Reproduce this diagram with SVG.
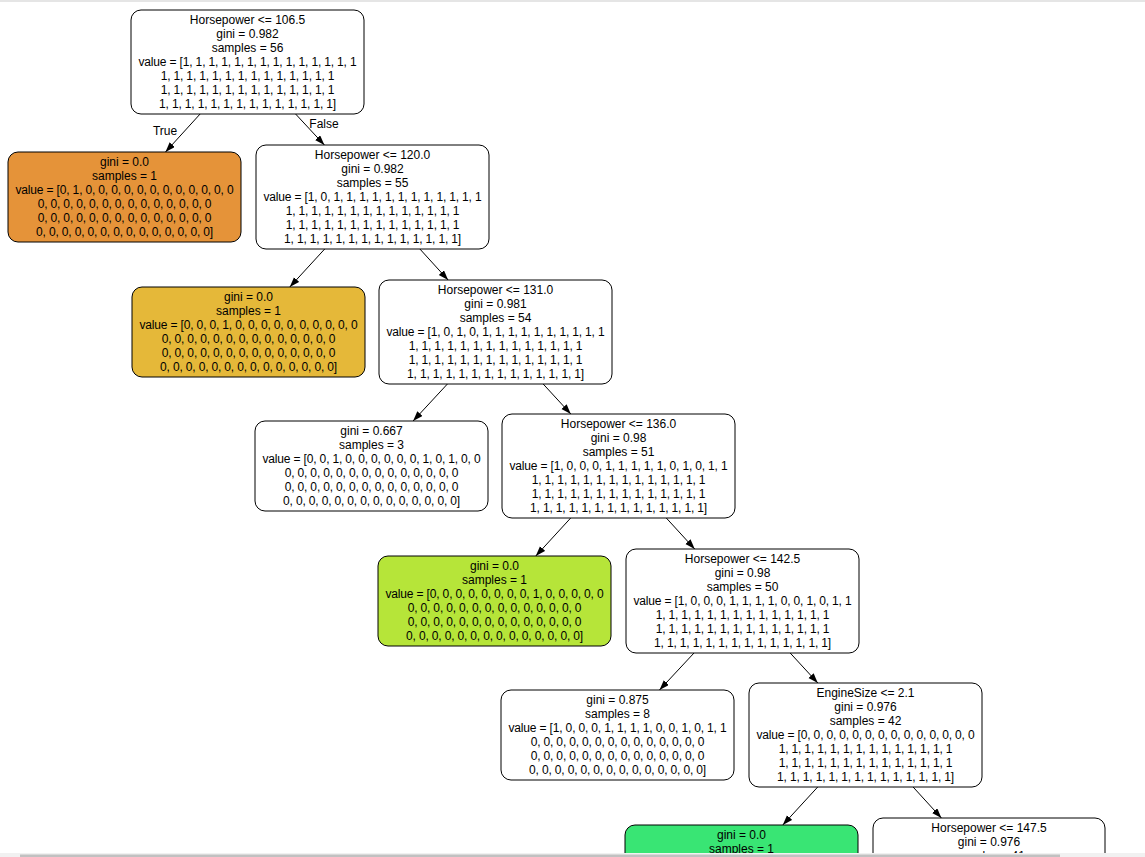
<svg xmlns="http://www.w3.org/2000/svg" width="1145" height="857" viewBox="0 0 1145 857">
<style>
.box{stroke:#000;stroke-width:1;}
.w{fill:#ffffff;}
.t{font-family:"Liberation Sans",Arial,sans-serif;font-size:12px;fill:#000;text-anchor:middle;}
.v{letter-spacing:-0.16px;}
.e{stroke:#000;stroke-width:1;fill:none;}
</style>
<defs>
<marker id="ah" markerUnits="userSpaceOnUse" markerWidth="10" markerHeight="8" refX="10" refY="3.5" orient="auto">
<path d="M0,0 L10,3.5 L0,7 z" fill="#000"/>
</marker>
</defs>
<rect x="0" y="0" width="1145" height="857" fill="#ffffff"/>
<line x1="0" y1="1" x2="1145" y2="1" stroke="#dcdcdc" stroke-width="1.5"/>

<g id="connectors">
<line class="e" x1="200.1" y1="114" x2="165.5" y2="152" marker-end="url(#ah)"/>
<line class="e" x1="295.6" y1="114" x2="324.4" y2="145" marker-end="url(#ah)"/>
<line class="e" x1="324.7" y1="249" x2="289.8" y2="287" marker-end="url(#ah)"/>
<line class="e" x1="419.9" y1="249" x2="448.1" y2="280" marker-end="url(#ah)"/>
<line class="e" x1="447.4" y1="384" x2="413.1" y2="421" marker-end="url(#ah)"/>
<line class="e" x1="543.2" y1="384" x2="570.8" y2="414" marker-end="url(#ah)"/>
<line class="e" x1="570.7" y1="518" x2="535.8" y2="556" marker-end="url(#ah)"/>
<line class="e" x1="666.3" y1="518" x2="694.7" y2="549" marker-end="url(#ah)"/>
<line class="e" x1="694" y1="653" x2="659.5" y2="690" marker-end="url(#ah)"/>
<line class="e" x1="790.2" y1="653" x2="817.8" y2="683" marker-end="url(#ah)"/>
<line class="e" x1="817.7" y1="787" x2="782.8" y2="825" marker-end="url(#ah)"/>
<line class="e" x1="913.1" y1="787" x2="941.4" y2="818" marker-end="url(#ah)"/>
<text class="t" x="165" y="135">True</text>
<text class="t" x="324" y="128">False</text>
</g>

<g id="n0">
<rect class="box w" x="131" y="10" width="233" height="104" rx="10"/>
<text class="t" x="247.5" y="24">Horsepower &lt;= 106.5<tspan x="247.5" dy="14">gini = 0.982</tspan><tspan x="247.5" dy="14">samples = 56</tspan><tspan class="v" x="247.5" dy="14">value = [1, 1, 1, 1, 1, 1, 1, 1, 1, 1, 1, 1, 1, 1</tspan><tspan class="v" x="247.5" dy="14">1, 1, 1, 1, 1, 1, 1, 1, 1, 1, 1, 1, 1, 1</tspan><tspan class="v" x="247.5" dy="14">1, 1, 1, 1, 1, 1, 1, 1, 1, 1, 1, 1, 1, 1</tspan><tspan class="v" x="247.5" dy="14">1, 1, 1, 1, 1, 1, 1, 1, 1, 1, 1, 1, 1, 1]</tspan></text>
</g>

<g id="n1">
<rect class="box" fill="#e59339" x="8" y="152" width="233" height="90" rx="10"/>
<text class="t" x="124.5" y="166">gini = 0.0<tspan x="124.5" dy="14">samples = 1</tspan><tspan class="v" x="124.5" dy="14">value = [0, 1, 0, 0, 0, 0, 0, 0, 0, 0, 0, 0, 0, 0</tspan><tspan class="v" x="124.5" dy="14">0, 0, 0, 0, 0, 0, 0, 0, 0, 0, 0, 0, 0, 0</tspan><tspan class="v" x="124.5" dy="14">0, 0, 0, 0, 0, 0, 0, 0, 0, 0, 0, 0, 0, 0</tspan><tspan class="v" x="124.5" dy="14">0, 0, 0, 0, 0, 0, 0, 0, 0, 0, 0, 0, 0, 0]</tspan></text>
</g>

<g id="n2">
<rect class="box w" x="256" y="145" width="233" height="104" rx="10"/>
<text class="t" x="372.5" y="159">Horsepower &lt;= 120.0<tspan x="372.5" dy="14">gini = 0.982</tspan><tspan x="372.5" dy="14">samples = 55</tspan><tspan class="v" x="372.5" dy="14">value = [1, 0, 1, 1, 1, 1, 1, 1, 1, 1, 1, 1, 1, 1</tspan><tspan class="v" x="372.5" dy="14">1, 1, 1, 1, 1, 1, 1, 1, 1, 1, 1, 1, 1, 1</tspan><tspan class="v" x="372.5" dy="14">1, 1, 1, 1, 1, 1, 1, 1, 1, 1, 1, 1, 1, 1</tspan><tspan class="v" x="372.5" dy="14">1, 1, 1, 1, 1, 1, 1, 1, 1, 1, 1, 1, 1, 1]</tspan></text>
</g>

<g id="n3">
<rect class="box" fill="#e5b839" x="132" y="287" width="233" height="90" rx="10"/>
<text class="t" x="248.5" y="301">gini = 0.0<tspan x="248.5" dy="14">samples = 1</tspan><tspan class="v" x="248.5" dy="14">value = [0, 0, 0, 1, 0, 0, 0, 0, 0, 0, 0, 0, 0, 0</tspan><tspan class="v" x="248.5" dy="14">0, 0, 0, 0, 0, 0, 0, 0, 0, 0, 0, 0, 0, 0</tspan><tspan class="v" x="248.5" dy="14">0, 0, 0, 0, 0, 0, 0, 0, 0, 0, 0, 0, 0, 0</tspan><tspan class="v" x="248.5" dy="14">0, 0, 0, 0, 0, 0, 0, 0, 0, 0, 0, 0, 0, 0]</tspan></text>
</g>

<g id="n4">
<rect class="box w" x="379" y="280" width="233" height="104" rx="10"/>
<text class="t" x="495.5" y="294">Horsepower &lt;= 131.0<tspan x="495.5" dy="14">gini = 0.981</tspan><tspan x="495.5" dy="14">samples = 54</tspan><tspan class="v" x="495.5" dy="14">value = [1, 0, 1, 0, 1, 1, 1, 1, 1, 1, 1, 1, 1, 1</tspan><tspan class="v" x="495.5" dy="14">1, 1, 1, 1, 1, 1, 1, 1, 1, 1, 1, 1, 1, 1</tspan><tspan class="v" x="495.5" dy="14">1, 1, 1, 1, 1, 1, 1, 1, 1, 1, 1, 1, 1, 1</tspan><tspan class="v" x="495.5" dy="14">1, 1, 1, 1, 1, 1, 1, 1, 1, 1, 1, 1, 1, 1]</tspan></text>
</g>

<g id="n5">
<rect class="box w" x="255" y="421" width="233" height="90" rx="10"/>
<text class="t" x="371.5" y="435">gini = 0.667<tspan x="371.5" dy="14">samples = 3</tspan><tspan class="v" x="371.5" dy="14">value = [0, 0, 1, 0, 0, 0, 0, 0, 0, 1, 0, 1, 0, 0</tspan><tspan class="v" x="371.5" dy="14">0, 0, 0, 0, 0, 0, 0, 0, 0, 0, 0, 0, 0, 0</tspan><tspan class="v" x="371.5" dy="14">0, 0, 0, 0, 0, 0, 0, 0, 0, 0, 0, 0, 0, 0</tspan><tspan class="v" x="371.5" dy="14">0, 0, 0, 0, 0, 0, 0, 0, 0, 0, 0, 0, 0, 0]</tspan></text>
</g>

<g id="n6">
<rect class="box w" x="502" y="414" width="233" height="104" rx="10"/>
<text class="t" x="618.5" y="428">Horsepower &lt;= 136.0<tspan x="618.5" dy="14">gini = 0.98</tspan><tspan x="618.5" dy="14">samples = 51</tspan><tspan class="v" x="618.5" dy="14">value = [1, 0, 0, 0, 1, 1, 1, 1, 1, 0, 1, 0, 1, 1</tspan><tspan class="v" x="618.5" dy="14">1, 1, 1, 1, 1, 1, 1, 1, 1, 1, 1, 1, 1, 1</tspan><tspan class="v" x="618.5" dy="14">1, 1, 1, 1, 1, 1, 1, 1, 1, 1, 1, 1, 1, 1</tspan><tspan class="v" x="618.5" dy="14">1, 1, 1, 1, 1, 1, 1, 1, 1, 1, 1, 1, 1, 1]</tspan></text>
</g>

<g id="n7">
<rect class="box" fill="#b6e539" x="378" y="556" width="233" height="90" rx="10"/>
<text class="t" x="494.5" y="570">gini = 0.0<tspan x="494.5" dy="14">samples = 1</tspan><tspan class="v" x="494.5" dy="14">value = [0, 0, 0, 0, 0, 0, 0, 0, 1, 0, 0, 0, 0, 0</tspan><tspan class="v" x="494.5" dy="14">0, 0, 0, 0, 0, 0, 0, 0, 0, 0, 0, 0, 0, 0</tspan><tspan class="v" x="494.5" dy="14">0, 0, 0, 0, 0, 0, 0, 0, 0, 0, 0, 0, 0, 0</tspan><tspan class="v" x="494.5" dy="14">0, 0, 0, 0, 0, 0, 0, 0, 0, 0, 0, 0, 0, 0]</tspan></text>
</g>

<g id="n8">
<rect class="box w" x="626" y="549" width="233" height="104" rx="10"/>
<text class="t" x="742.5" y="563">Horsepower &lt;= 142.5<tspan x="742.5" dy="14">gini = 0.98</tspan><tspan x="742.5" dy="14">samples = 50</tspan><tspan class="v" x="742.5" dy="14">value = [1, 0, 0, 0, 1, 1, 1, 1, 0, 0, 1, 0, 1, 1</tspan><tspan class="v" x="742.5" dy="14">1, 1, 1, 1, 1, 1, 1, 1, 1, 1, 1, 1, 1, 1</tspan><tspan class="v" x="742.5" dy="14">1, 1, 1, 1, 1, 1, 1, 1, 1, 1, 1, 1, 1, 1</tspan><tspan class="v" x="742.5" dy="14">1, 1, 1, 1, 1, 1, 1, 1, 1, 1, 1, 1, 1, 1]</tspan></text>
</g>

<g id="n9">
<rect class="box w" x="501" y="690" width="233" height="90" rx="10"/>
<text class="t" x="617.5" y="704">gini = 0.875<tspan x="617.5" dy="14">samples = 8</tspan><tspan class="v" x="617.5" dy="14">value = [1, 0, 0, 0, 1, 1, 1, 1, 0, 0, 1, 0, 1, 1</tspan><tspan class="v" x="617.5" dy="14">0, 0, 0, 0, 0, 0, 0, 0, 0, 0, 0, 0, 0, 0</tspan><tspan class="v" x="617.5" dy="14">0, 0, 0, 0, 0, 0, 0, 0, 0, 0, 0, 0, 0, 0</tspan><tspan class="v" x="617.5" dy="14">0, 0, 0, 0, 0, 0, 0, 0, 0, 0, 0, 0, 0, 0]</tspan></text>
</g>

<g id="n10">
<rect class="box w" x="749" y="683" width="233" height="104" rx="10"/>
<text class="t" x="865.5" y="697">EngineSize &lt;= 2.1<tspan x="865.5" dy="14">gini = 0.976</tspan><tspan x="865.5" dy="14">samples = 42</tspan><tspan class="v" x="865.5" dy="14">value = [0, 0, 0, 0, 0, 0, 0, 0, 0, 0, 0, 0, 0, 0</tspan><tspan class="v" x="865.5" dy="14">1, 1, 1, 1, 1, 1, 1, 1, 1, 1, 1, 1, 1, 1</tspan><tspan class="v" x="865.5" dy="14">1, 1, 1, 1, 1, 1, 1, 1, 1, 1, 1, 1, 1, 1</tspan><tspan class="v" x="865.5" dy="14">1, 1, 1, 1, 1, 1, 1, 1, 1, 1, 1, 1, 1, 1]</tspan></text>
</g>

<g id="n11">
<rect class="box" fill="#39e574" x="625" y="825" width="233" height="90" rx="10"/>
<text class="t" x="741.5" y="839">gini = 0.0<tspan x="741.5" dy="14">samples = 1</tspan></text>
</g>

<g id="n12">
<rect class="box w" x="873" y="818" width="232" height="104" rx="10"/>
<text class="t" x="989" y="832">Horsepower &lt;= 147.5<tspan x="989" dy="14">gini = 0.976</tspan><tspan x="989" dy="14">samples = 41</tspan></text>
</g>

<g id="scrollbar">
<rect x="0" y="853" width="1145" height="4" fill="#f1f1f1"/>
<rect x="20" y="854.5" width="1040" height="2.5" fill="#c1c1c1"/>
</g>
</svg>
